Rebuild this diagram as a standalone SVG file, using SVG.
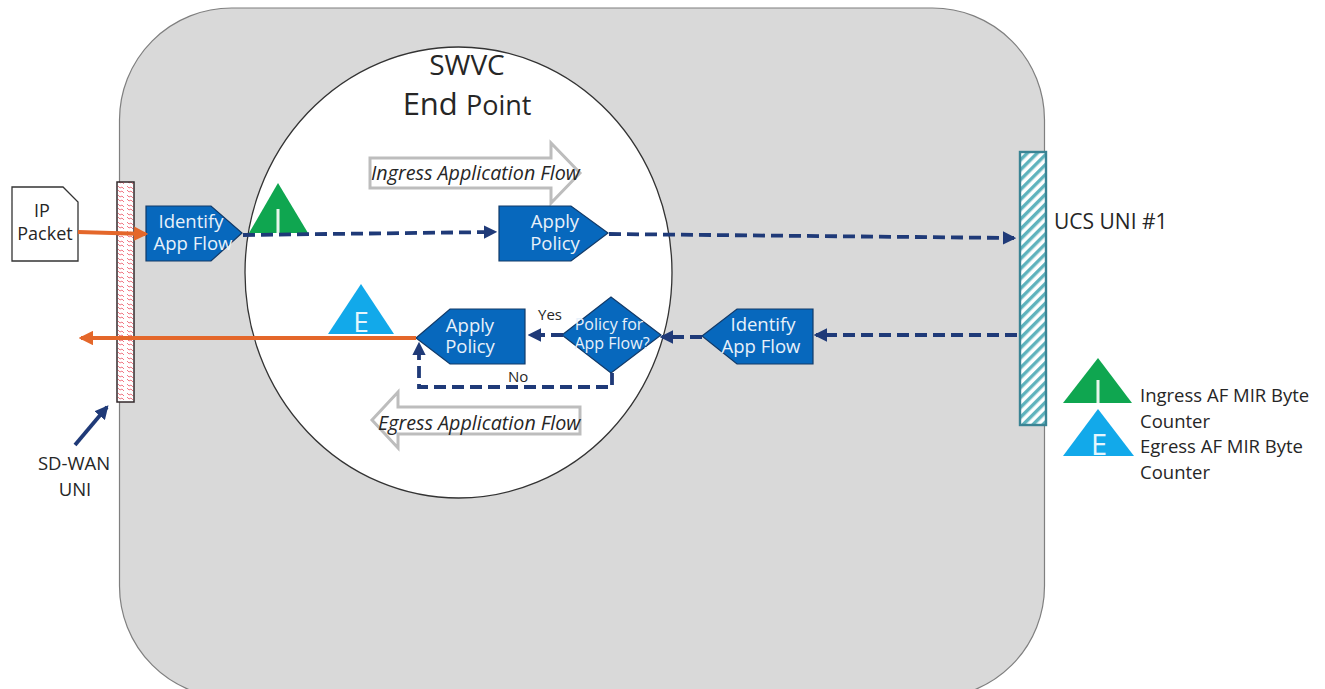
<svg xmlns="http://www.w3.org/2000/svg" width="1325" height="689" viewBox="0 0 1325 689">
<style>
text{font-family:"Open Sans","Noto Sans","Liberation Sans",sans-serif;fill:#262626}
.w{fill:#e8f1fa;font-size:18.500px;text-anchor:middle}
.s{font-size:16px}
.blue{fill:#0768bd;stroke:#123a68;stroke-width:1.2}
.dash{fill:none;stroke:#1f3a78;stroke-width:3.8;stroke-dasharray:12 6}
.or{fill:none;stroke:#e4672a;stroke-width:4}
.big{fill:#fff;stroke:#bdbdbd;stroke-width:3}
.lg{font-size:18.500px}
.it{font-style:italic;font-size:19.700px}
</style>
<defs>
<marker id="ah" markerWidth="3.600" markerHeight="3.600" refX="3" refY="1.800" orient="auto" markerUnits="strokeWidth"><path d="M0 0L3.600 1.800L0 3.600z" fill="#1f3a78"/></marker>
<marker id="ao" markerWidth="3.600" markerHeight="3.600" refX="3" refY="1.800" orient="auto" markerUnits="strokeWidth"><path d="M0 0L3.600 1.800L0 3.600z" fill="#e4672a"/></marker>
<pattern id="wave" width="9" height="9" patternUnits="userSpaceOnUse"><path d="M1 1l2 2 2-1 2 2M1 6l2 2 2-1 2 2" fill="none" stroke="#ee6a78" stroke-width=".9"/></pattern>
<pattern id="hatch" width="7" height="7" patternUnits="userSpaceOnUse" patternTransform="rotate(-45)"><rect width="7" height="7" fill="#fff"/><rect width="7" height="3.4" fill="#5fb3bd"/></pattern>
</defs>
<rect id="swvc-bg" x="119.500" y="8" width="925" height="690" rx="112" fill="#d9d9d9" stroke="#7f7f7f" stroke-width="1.200"/>
<g id="endpoint"><ellipse cx="458.500" cy="272.500" rx="213.500" ry="225.500" fill="#fff" stroke="#333" stroke-width="1.300"/>
<text font-size="28" text-anchor="middle"><tspan x="467" y="75">SWVC</tspan><tspan x="467" y="115" font-size="31">End <tspan font-size="27">Point</tspan></tspan></text></g>
<g id="ingress-flow"><path class="big" d="M370 158H551V143L580 173L551 203V188H370z"/><text class="it" x="371" y="180">Ingress Application Flow</text></g>
<g id="egress-flow"><path class="big" d="M580 407H398V392L372 420L398 448V434H580z"/><text class="it" x="378" y="430">Egress Application Flow</text></g>
<g id="ip-packet"><path d="M12 187H63L78 202V261H12z" fill="#fff" stroke="#333" stroke-width="1.300"/><text style="font-size:18px" text-anchor="middle"><tspan x="42" y="217">IP</tspan><tspan x="45" y="240">Packet</tspan></text></g>
<g id="sd-wan-uni"><rect x="117" y="182" width="17" height="220" fill="#fff"/><rect x="117" y="182" width="17" height="220" fill="url(#wave)" stroke="#33292b" stroke-width="1.500"/></g>
<g id="ucs-uni"><rect x="1020" y="152" width="26" height="273" fill="url(#hatch)" stroke="#3a8494" stroke-width="2.400"/><text x="1054" y="229" font-size="21">UCS UNI #1</text></g>
<g id="identify-in"><path class="blue" d="M146 206H211L242 233L211 261H146z"/><text class="w"><tspan x="191" y="228">Identify</tspan><tspan x="193" y="250">App Flow</tspan></text></g>
<g id="apply-in"><path class="blue" d="M499 206H571L608 233L571 261H499z"/><text class="w"><tspan x="555" y="228">Apply</tspan><tspan x="555" y="250">Policy</tspan></text></g>
<g id="apply-eg"><path class="blue" d="M416 338L450 309H525V364H450z"/><text class="w"><tspan x="470" y="332">Apply</tspan><tspan x="470" y="353">Policy</tspan></text></g>
<g id="policy-decision"><path class="blue" d="M562 335L611 297L661 335L611 373z"/><text class="w s"><tspan x="609" y="330">Policy for</tspan><tspan x="612" y="349">App Flow?</tspan></text></g>
<g id="identify-eg"><path class="blue" d="M702 336L737 309H813V364H737z"/><text class="w"><tspan x="763" y="331">Identify</tspan><tspan x="761" y="353">App Flow</tspan></text></g>
<g id="ingress-counter"><path d="M249 233L278 183L308 233z" fill="#0fa650"/><rect x="276.500" y="209" width="3" height="24" fill="#e8f5ec"/></g>
<g id="egress-counter"><path d="M328 334L361 284L394 334z" fill="#12a9ea"/><text x="361" y="332" font-size="28" text-anchor="middle" style="fill:#e6f6fd">E</text></g>
<g id="legend"><path d="M1063 403L1098 358L1132 403z" fill="#0fa650"/><rect x="1096.500" y="380" width="3" height="23" fill="#e8f5ec"/><path d="M1063 456L1098 409L1134 456z" fill="#12a9ea"/><text x="1099" y="455" font-size="29" text-anchor="middle" style="fill:#e6f6fd">E</text>
<text class="lg"><tspan x="1140" y="402">Ingress AF MIR Byte</tspan><tspan x="1140" y="428">Counter</tspan><tspan x="1140" y="453">Egress AF MIR Byte</tspan><tspan x="1140" y="479">Counter</tspan></text></g>
<g id="connectors">
<path class="dash" marker-end="url(#ah)" d="M243 235L495 232"/>
<path class="dash" marker-end="url(#ah)" d="M609 234L1014 238"/>
<path class="dash" marker-end="url(#ah)" d="M1017 335L816 335"/>
<path class="dash" marker-end="url(#ah)" d="M702 337L662 337"/>
<path class="dash" marker-end="url(#ah)" d="M563 335L530 335"/>
<path class="dash" marker-end="url(#ah)" d="M612 373V387H419V344"/>
<path class="or" marker-end="url(#ao)" d="M78 232L146 234"/>
<path class="or" marker-end="url(#ao)" d="M416 338L81 338"/>
<path d="M75 445L107 407" fill="none" stroke="#1f3a78" stroke-width="3.800" marker-end="url(#ah)"/>
</g>
<text x="538" y="320" font-size="15">Yes</text>
<text x="508" y="382" font-size="15">No</text>
<text class="lg" text-anchor="middle"><tspan x="74" y="470">SD-WAN</tspan><tspan x="75" y="496">UNI</tspan></text>
</svg>
